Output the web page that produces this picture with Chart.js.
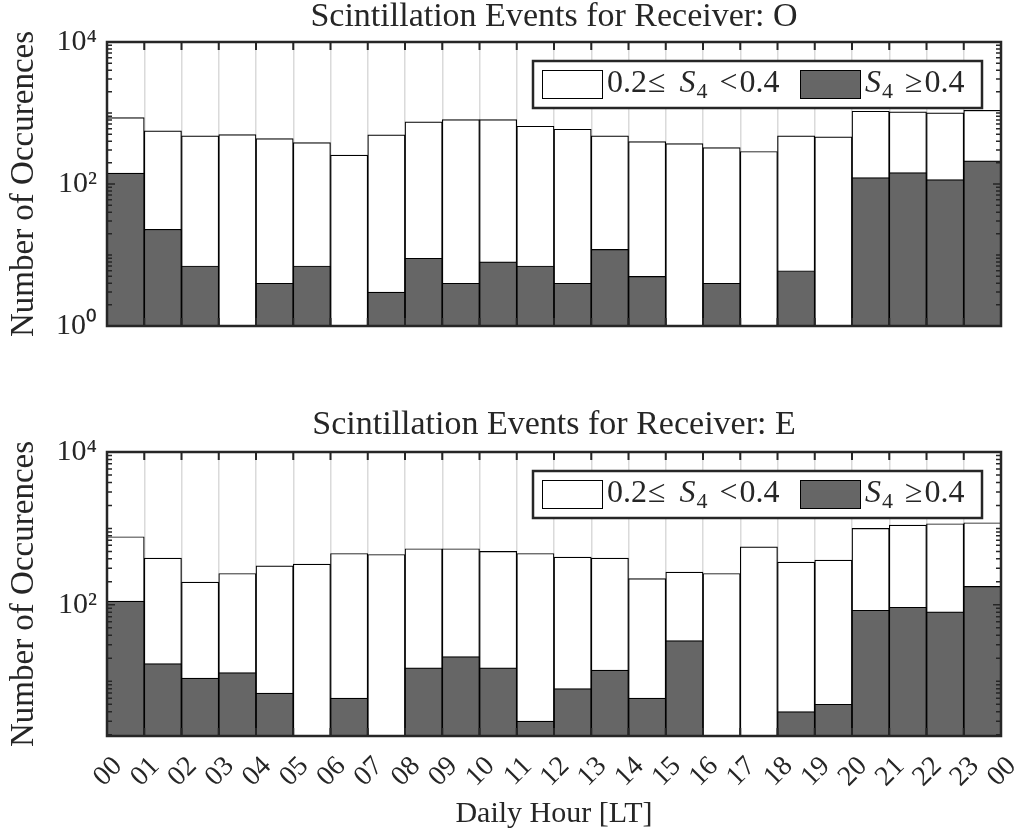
<!DOCTYPE html>
<html>
<head>
<meta charset="utf-8">
<script src="https://cdn.jsdelivr.net/npm/chart.js@4.4.1/dist/chart.umd.min.js"></script>
<style>
  html, body { margin: 0; padding: 0; background: #fff; }
  #wrap { position: relative; width: 1023px; height: 838px; }
  canvas { position: absolute; left: 0; }
  #topChart { top: 0; }
  #bottomChart { top: 345px; }
</style>
</head>
<body>
<div id="wrap">
  <canvas id="topChart" width="1023" height="345"></canvas>
  <canvas id="bottomChart" width="1023" height="493"></canvas>
</div>
<script>
// hourly bins and the edge labels under them
var hours = ['00','01','02','03','04','05','06','07','08','09','10','11',
             '12','13','14','15','16','17','18','19','20','21','22','23'];
var hourEdges = ['00','01','02','03','04','05','06','07','08','09','10','11',
                 '12','13','14','15','16','17','18','19','20','21','22','23','00'];

// receiver O: all events with S4 >= 0.2, and the strong ones (S4 >= 0.4)
var totalO = [862,560,476,497,436,384,255,492,750,808,808,651,
              591,476,396,371,326,287,476,461,1059,1036,1002,1093];
var strongO = [142,23,7,null,4,7,null,3,9,4,8,7,
               4,12,5,null,4,null,6,null,123,145,115,212];

// receiver E
var totalE = [778,408,198,257,324,341,470,456,542,542,500,470,
              421,408,221,268,257,575,362,385,1000,1107,1151,1186];
var strongE = [112,17,11,13,7,null,6,null,15,21,15,3,
               8,14,6,34,null,null,4,5,85,93,81,174];

// log axis labels
var yMajor = [1, 100, 10000];
var yTickLabels = ['10\u2070', '10\u00b2', '10\u2074'];

// legend text, split so S gets italics and 4 is a subscript
var legendParts = [
  [{t:'0.2'}, {t:'\u2264', g:1}, {t:'S', it:true, g:14}, {t:'4', sub:true, g:1}, {t:'<', g:12}, {t:'0.4', g:2}],
  [{t:'S', it:true}, {t:'4', sub:true, g:1}, {t:'\u2265', g:12}, {t:'0.4', g:2}]
];

var FONT = "'Liberation Serif', 'Times New Roman', serif";
var INK = '#262626';
Chart.defaults.font.family = FONT;
Chart.defaults.color = INK;

// box, inward ticks and legend in the matlab look
var matlabAxes = {
  id: 'matlabAxes',
  afterDraw: function (chart) {
    var ctx = chart.ctx, ca = chart.chartArea;
    var xs = chart.scales.x, ys = chart.scales.y;
    ctx.save();
    ctx.strokeStyle = INK;

    // x ticks at the hour edges, top and bottom
    ctx.lineWidth = 2;
    for (var i = 1; i < hourEdges.length - 1; i++) {
      var px = xs.getPixelForValue(i);
      ctx.beginPath();
      ctx.moveTo(px, ca.top); ctx.lineTo(px, ca.top + 8);
      ctx.moveTo(px, ca.bottom); ctx.lineTo(px, ca.bottom - 8);
      ctx.stroke();
    }

    // y ticks, minor ones shorter
    ctx.lineWidth = 1.5;
    for (var d = 0; d < 4; d++) {
      for (var m = 1; m < 10; m++) {
        var v = m * Math.pow(10, d);
        if (v < ys.min || v > ys.max) continue;
        var py = ys.getPixelForValue(v);
        var len = (m === 1 && d % 2 === 0) ? 8 : 5;
        ctx.beginPath();
        ctx.moveTo(ca.left, py); ctx.lineTo(ca.left + len, py);
        ctx.moveTo(ca.right, py); ctx.lineTo(ca.right - len, py);
        ctx.stroke();
      }
    }

    // frame
    ctx.lineWidth = 2.5;
    ctx.strokeRect(ca.left, ca.top, ca.right - ca.left, ca.bottom - ca.top);

    // legend
    var boxW = 449, boxH = 47;
    var x0 = ca.right - 19 - boxW, y0 = ca.top + 19;
    ctx.fillStyle = '#fff';
    ctx.fillRect(x0, y0, boxW, boxH);
    ctx.strokeRect(x0, y0, boxW, boxH);
    var entryX = [x0 + 9, x0 + 267];
    ctx.textBaseline = 'alphabetic';
    chart.data.datasets.forEach(function (ds, k) {
      var x = entryX[k];
      ctx.fillStyle = ds.backgroundColor;
      ctx.fillRect(x, y0 + 9, 61, 29);
      ctx.lineWidth = 1;
      ctx.strokeStyle = '#000';
      ctx.strokeRect(x + 0.5, y0 + 9.5, 60, 28);
      x += 65;
      ctx.fillStyle = INK;
      legendParts[k].forEach(function (p) {
        x += p.g || 0;
        ctx.font = (p.it ? 'italic ' : '') + (p.sub ? '22px ' : '32px ') + FONT;
        ctx.fillText(p.t, x, y0 + 31 + (p.sub ? 6 : 0));
        x += ctx.measureText(p.t).width;
      });
    });
    ctx.restore();
  }
};

function makeChart(canvas, title, total, strong, yMin, isBottom) {
  return new Chart(canvas.getContext('2d'), {
    type: 'bar',
    data: {
      labels: hours,
      datasets: [
        {
          label: '0.2\u2264 S4 <0.4',
          data: total,
          backgroundColor: '#ffffff',
          borderColor: '#000000',
          borderWidth: 1.2,
          borderSkipped: false,
          grouped: false,
          order: 2,
          xAxisID: 'xb',
          yAxisID: 'y',
          categoryPercentage: 1,
          barPercentage: 1
        },
        {
          label: 'S4 \u22650.4',
          data: strong,
          backgroundColor: '#666666',
          borderColor: '#000000',
          borderWidth: 1.2,
          borderSkipped: false,
          grouped: false,
          order: 1,
          xAxisID: 'xb',
          yAxisID: 'y',
          categoryPercentage: 1,
          barPercentage: 1
        }
      ]
    },
    options: {
      responsive: false,
      animation: false,
      devicePixelRatio: 1,
      events: [],
      layout: { padding: { left: 0, right: 22, top: isBottom ? 63 : 0, bottom: 0 } },
      plugins: {
        legend: { display: false },
        tooltip: { enabled: false },
        title: {
          display: true,
          text: title,
          fullSize: false,
          color: INK,
          font: { size: 34, weight: 'normal', lineHeight: 1.0 },
          padding: { top: 0, bottom: isBottom ? 10 : 8 }
        }
      },
      scales: {
        xb: { type: 'category', labels: hours, offset: true, display: false },
        x: {
          type: 'linear',
          position: 'bottom',
          min: 0,
          max: 24,
          offset: false,
          afterBuildTicks: function (s) {
            s.ticks = hourEdges.map(function (_, i) { return { value: i }; });
          },
          ticks: {
            display: isBottom,
            autoSkip: false,
            minRotation: 45,
            maxRotation: 45,
            labelOffset: 11,
            padding: 14,
            color: INK,
            font: { size: 28 },
            callback: function (v, i) { return hourEdges[i]; }
          },
          grid: { color: '#dadada', lineWidth: 1.5, drawTicks: false, offset: false },
          border: { display: false },
          title: {
            display: isBottom,
            text: 'Daily Hour [LT]',
            color: INK,
            font: { size: 30 },
            padding: { top: 0, bottom: 6 }
          },
          afterFit: function (s) {
            s.height = isBottom ? 102 : 19;
            s.paddingLeft = 0;
            s.paddingRight = 0;
          }
        },
        y: {
          type: 'logarithmic',
          min: yMin,
          max: 10000,
          z: 1,
          afterBuildTicks: function (s) {
            s.ticks = yMajor.filter(function (v) { return v >= yMin; })
                            .map(function (v) { return { value: v }; });
          },
          ticks: {
            color: INK,
            font: { size: 30 },
            padding: 10,
            callback: function (v) { return yTickLabels[yMajor.indexOf(v)]; }
          },
          grid: {
            drawTicks: false,
            color: function (c) {
              return c.tick && c.tick.value === 100 ? 'rgba(0,0,0,0.08)' : 'rgba(0,0,0,0)';
            }
          },
          border: { display: false },
          title: {
            display: true,
            text: 'Number of Occurences',
            color: INK,
            font: { size: 33 },
            padding: { top: 5, bottom: 0 }
          },
          afterFit: function (s) {
            s.width = 107;
            s.paddingTop = 0;
            s.paddingBottom = 0;
          }
        }
      }
    },
    plugins: [matlabAxes]
  });
}

makeChart(document.getElementById('topChart'),
  'Scintillation Events for Receiver: O', totalO, strongO, 1, false);
makeChart(document.getElementById('bottomChart'),
  'Scintillation Events for Receiver: E', totalE, strongE, 1.92, true);
</script>
</body>
</html>
